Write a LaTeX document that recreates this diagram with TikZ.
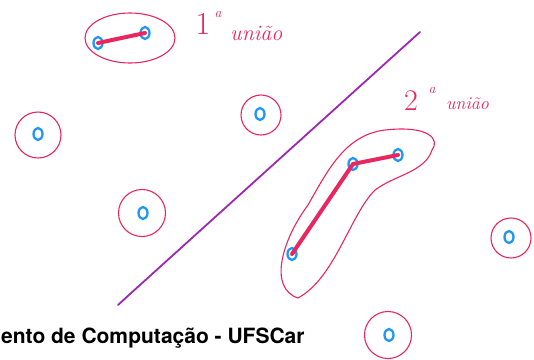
\documentclass[tikz,border=0pt]{standalone}
\usepackage{fontspec}
\usetikzlibrary{shapes.geometric}
\newfontfamily\footfont{TeX Gyre Heros}
\definecolor{inkpink}{HTML}{E8265F}
\definecolor{inkblue}{HTML}{2196F3}
\definecolor{inkpurple}{HTML}{9C27B0}
\tikzset{
  pt/.style={ellipse, draw=inkblue, line width=2.3pt, minimum width=9pt, minimum height=12pt, inner sep=0pt},
  ring/.style={circle, draw=inkpink, line width=1.1pt, inner sep=0pt},
  link/.style={draw=inkpink, line width=4pt, line cap=round},
  hand/.style={text=inkpink, inner sep=0pt}
}
\begin{document}
\begin{tikzpicture}[x=1pt,y=-1pt]
\useasboundingbox (0,0) rectangle (534,359);
\clip (0,0) rectangle (534,359);
% separating line
\coordinate (s1) at (420,32);
\coordinate (s2) at (130,294);
\coordinate (s3) at (118,305);
\draw[inkpurple, line width=1.8pt, line cap=round] (s1) -- (s2) -- (s3);
% first cluster
\node[ellipse, draw=inkpink, line width=1.1pt, minimum width=90pt, minimum height=50pt] (c1) at (130,38) {};
\node[pt] (a1) at (98,43) {};
\node[pt] (a2) at (145,33) {};
\draw[link] (a1.center) -- (a2.center);
\node[hand, font=\fontsize{32}{34}\selectfont] (l1n) at (203,24) {1};
\node[hand, font=\fontsize{14}{16}\itshape] (l1s) at (218,14) {a};
\node[hand, font=\fontsize{22}{24}\itshape, anchor=base west] (l1t) at (230,40) {união};
% second cluster
\node[pt] (b1) at (353,164) {};
\node[pt] (b2) at (398,155) {};
\node[pt] (b3) at (292,254) {};
\draw[link] (b1.center) -- (b2.center);
\draw[link] (b3.center) -- (b1.center);
\coordinate (e1) at (298,298);
\coordinate (e2) at (432,150);
\draw[inkpink, line width=1.1pt] (e1) .. controls (268,288) and (282,240) .. (308,205)
  .. controls (328,170) and (345,135) .. (385,130)
  .. controls (430,125) and (440,140) .. (e2)
  .. controls (425,172) and (395,175) .. (375,190)
  .. controls (350,215) and (335,278) .. (e1);
\node[hand, font=\fontsize{30}{32}\selectfont] (l2n) at (411,101) {2};
\node[hand, font=\fontsize{14}{16}\itshape] (l2s) at (432,90) {a};
\node[hand, font=\fontsize{18}{20}\itshape, anchor=base west] (l2t) at (446,109) {união};
% singletons
\node[pt] (p1) at (38,134) {};
\node[ring, minimum size=46pt] (r1) at (38,135) {};
\node[pt] (p2) at (260,114) {};
\node[ring, minimum size=40pt] (r2) at (261,115) {};
\node[pt] (p3) at (143,213) {};
\node[ring, minimum size=47pt] (r3) at (142,213) {};
\node[pt] (p4) at (509,237) {};
\node[ring, minimum size=40pt] (r4) at (511,238) {};
\node[pt] (p5) at (389,335) {};
\node[ring, minimum size=47pt] (r5) at (388,335) {};
% footer
\node[anchor=base west, inner sep=0pt, font=\footfont\bfseries\fontsize{21}{24}\selectfont] (foot) at (1,343) {ento de Computação - UFSCar};
\end{tikzpicture}
\end{document}
